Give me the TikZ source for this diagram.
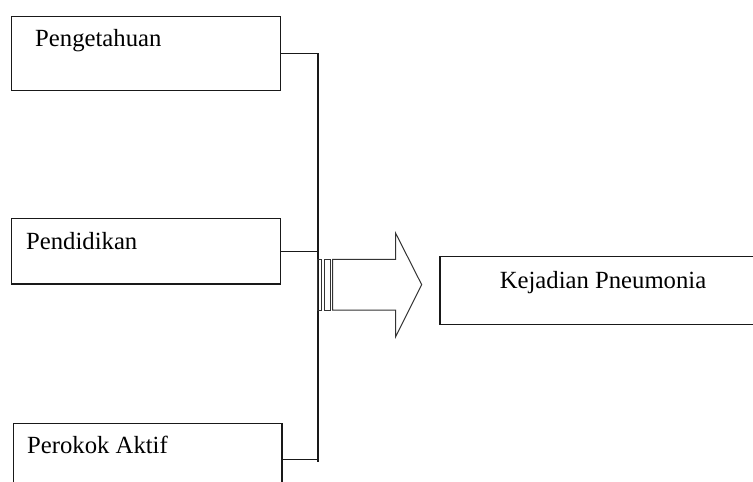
\documentclass[tikz,border=0pt]{standalone}
\usepackage{fontspec}
\setmainfont{Liberation Serif}
\begin{document}
\begin{tikzpicture}[x=1pt,y=-1pt,
  box/.style={draw=black!90,line width=1.3pt,minimum width=#1,inner sep=0pt,anchor=north west},
  lbl/.style={anchor=base west,inner sep=0pt,font=\fontsize{24.7}{28}\selectfont},
  conn/.style={draw=black!90,line width=1.2pt},
  arr/.style={draw=black!80,line width=1pt,line join=miter}]
\useasboundingbox (0,0) rectangle (753,482);
\clip (0,0) rectangle (753,482);
% boxes
\node[box=269pt,minimum height=73.5pt] (b1) at (11,16) {};
\node[box=269pt,minimum height=65.6pt] (b2) at (11,217.7) {};
\node[box=268.5pt,minimum height=72pt] (b3) at (12.8,422.7) {};
\node[box=313.4pt,minimum height=68pt] (out) at (439.3,256) {};
% labels
\node[lbl] (t1) at (35,46) {Pengetahuan};
\node[lbl] (t2) at (26,249) {Pendidikan};
\node[lbl] (t3) at (27,453) {Perokok Aktif};
\node[anchor=base,inner sep=0pt,font=\fontsize{24.7}{28}\selectfont] (t4) at (603,288) {Kejadian Pneumonia};
% bus
\coordinate (busx) at (318,0);
\coordinate (busbot) at (318,461.7);
\draw[conn] (b1.east) -- (b1.east -| busx) -- (busbot);
\draw[conn] (b2.east) -- (b2.east -| busx);
\draw[conn] (b3.east) -- (b3.east -| busx);
% striped arrow
\coordinate (s1a) at (317.7,259.3);
\coordinate (s1b) at (321,310);
\coordinate (s2a) at (324,259.3);
\coordinate (s2b) at (330,310);
\draw[arr] (s1a) rectangle (s1b);
\draw[arr] (s2a) rectangle (s2b);
\coordinate (tip) at (421.7,284.7);
\draw[arr] (332.7,259.3) -- (395.7,259.3) -- (395.7,233.3) -- (tip)
  -- (395.7,336.7) -- (395.7,310) -- (332.7,310) -- cycle;
\end{tikzpicture}
\end{document}
